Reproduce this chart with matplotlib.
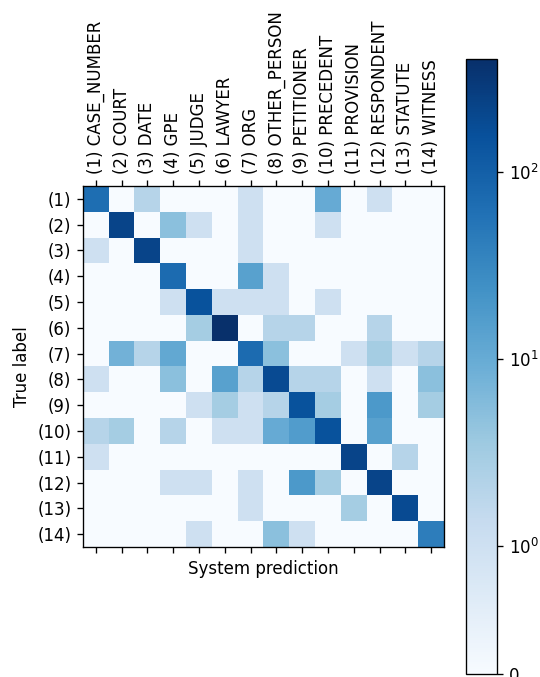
import numpy as np
import matplotlib
matplotlib.use("Agg")
import matplotlib.pyplot as plt
from matplotlib.colors import SymLogNorm
from matplotlib.ticker import FixedLocator, FixedFormatter, NullLocator

labels = ["CASE_NUMBER", "COURT", "DATE", "GPE", "JUDGE", "LAWYER", "ORG",
          "OTHER_PERSON", "PETITIONER", "PRECEDENT", "PROVISION", "RESPONDENT",
          "STATUTE", "WITNESS"]

row1 = [65, 0, 2, 0, 0, 0, 1, 0, 0, 10, 0, 1, 0, 0]
row2 = [0, 218, 0, 5, 1, 0, 1, 0, 0, 1, 0, 0, 0, 0]
row3 = [1, 0, 218, 0, 0, 0, 1, 0, 0, 0, 0, 0, 0, 0]
row4 = [0, 0, 0, 70, 0, 0, 14, 1, 0, 0, 0, 0, 0, 0]
row5 = [0, 0, 0, 1, 149, 1, 1, 1, 0, 1, 0, 0, 0, 0]
row6 = [0, 0, 0, 0, 3, 400, 0, 2, 2, 0, 0, 2, 0, 0]
row7 = [0, 8, 2, 11, 0, 0, 70, 5, 0, 0, 1, 3, 1, 2]
row8 = [1, 0, 0, 5, 0, 14, 2, 181, 2, 2, 0, 1, 0, 5]
row9 = [0, 0, 0, 0, 1, 3, 1, 2, 149, 3, 0, 18, 0, 3]
row10 = [2, 3, 0, 2, 0, 1, 1, 10, 16, 149, 0, 14, 0, 0]
row11 = [1, 0, 0, 0, 0, 0, 0, 0, 0, 0, 218, 0, 2, 0]
row12 = [0, 0, 0, 1, 1, 0, 1, 0, 18, 3, 0, 218, 0, 0]
row13 = [0, 0, 0, 0, 0, 0, 1, 0, 0, 0, 3, 0, 181, 0]
row14 = [0, 0, 0, 0, 1, 0, 0, 5, 1, 0, 0, 0, 0, 41]

cm = np.array([row1, row2, row3, row4, row5, row6, row7, row8, row9, row10,
               row11, row12, row13, row14], dtype=float)

cbar_ticks = [0, 1, 10, 100]
cbar_ticklabels = ["0", r"$\mathdefault{10^{0}}$", r"$\mathdefault{10^{1}}$", r"$\mathdefault{10^{2}}$"]

n = len(labels)
tick_names = [f"({i+1}) {lab}" for i, lab in enumerate(labels)]
row_names = [f"({i+1})" for i in range(n)]

W, H, DPI = 540, 677, 120
fig = plt.figure(figsize=(W / DPI, H / DPI), dpi=DPI)
ax = fig.add_axes([83/W, (H-547)/H, 361/W, 361/H])
cax = fig.add_axes([466/W, (H-674)/H, 31/W, 615/H])

norm = SymLogNorm(linthresh=1, linscale=1, vmin=0, vmax=cm.max(), base=np.e)
im = ax.imshow(cm, cmap="Blues", norm=norm, aspect="auto")

ax.set_xticks(range(n))
ax.set_xticklabels(tick_names, rotation=90)
ax.set_yticks(range(n))
ax.set_yticklabels(row_names)
ax.tick_params(axis="x", top=True, labeltop=True, bottom=True, labelbottom=False)
ax.set_xlabel("System prediction")
ax.set_ylabel("True label")

cb = fig.colorbar(im, cax=cax)
cb.ax.yaxis.set_major_locator(FixedLocator(cbar_ticks))
cb.ax.yaxis.set_major_formatter(FixedFormatter(cbar_ticklabels))
cb.ax.yaxis.set_minor_locator(NullLocator())

fig.savefig("out.png", dpi=DPI)
